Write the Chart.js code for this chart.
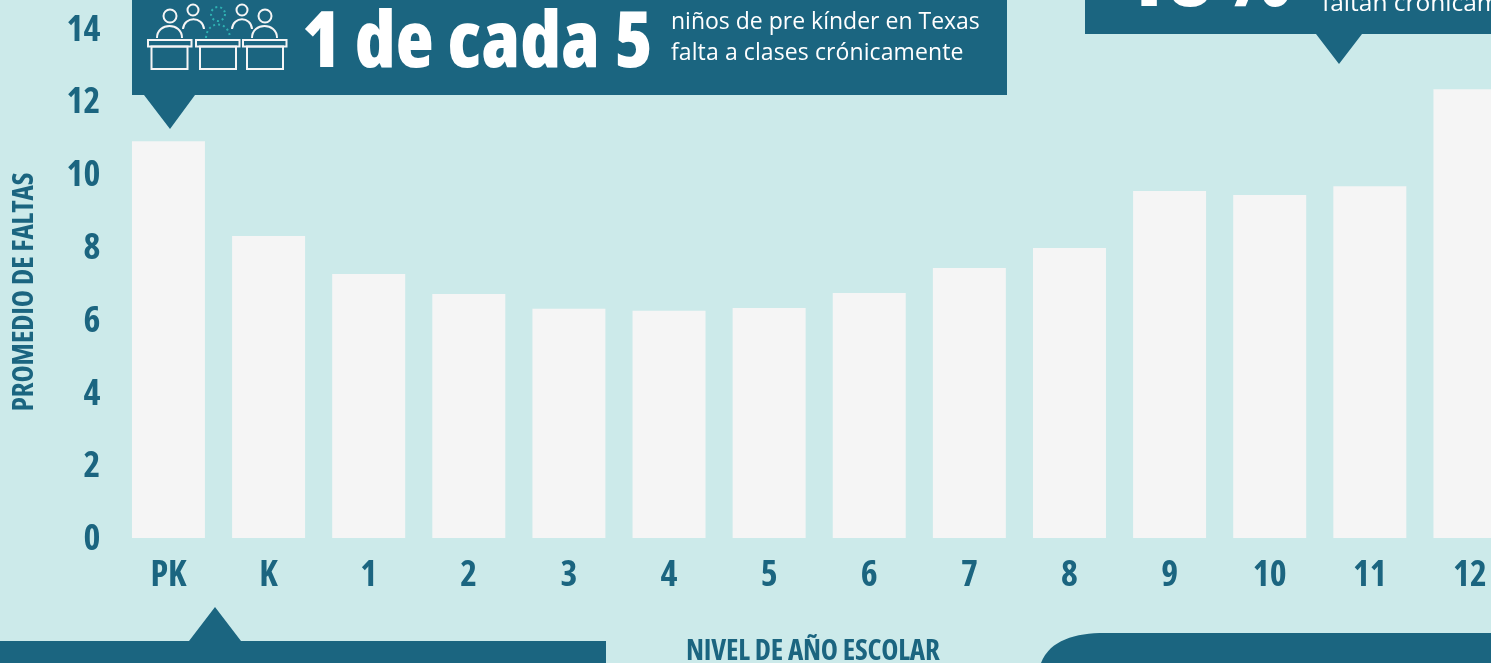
<!DOCTYPE html>
<html>
<head>
<meta charset="utf-8">
<style>
    html, body { margin: 0; padding: 0; width: 1491px; height: 663px; overflow: hidden; background: #cceaea; }
    #wrap { position: relative; width: 1491px; height: 663px; overflow: hidden; }
    #chartBox { position: absolute; left: 0; top: 0; width: 1520px; height: 663px; }
    #shapes { position: absolute; left: 0; top: 0; }
    .txt { position: absolute; white-space: nowrap; line-height: 1; }
    .big { font-family: "Open Sans", sans-serif; font-stretch: condensed; font-weight: 800; font-size: 78px; color: #fff; }
    .small { font: 23px "Open Sans", sans-serif; color: #fff; }
    .axisTitle { font-family: "Open Sans", sans-serif; font-stretch: condensed; font-weight: bold; font-size: 29px; color: #1b6580; }
</style>
</head>
<body>
<div id="wrap">
    <div id="chartBox"><canvas id="absenceChart"></canvas></div>

    <svg id="shapes" width="1491" height="663">
        <!-- callouts -->
        <path fill="#1b6580" d="M132 0H1007V95H195L170 129L144 95H132Z"/>
        <path fill="#1b6580" d="M1085 0H1491V34H1362L1339 64L1316 34H1085Z"/>
        <path fill="#1b6580" d="M0 641H189L215 607L241 641H606V663H0Z"/>
        <path fill="#1b6580" d="M1041 663C1050 640 1075 633 1105 633H1491V663Z"/>
        <!-- desks icon -->
        <g fill="none" stroke="#f5f5f5" stroke-width="2">
            <rect x="148" y="40" width="43.5" height="6.5"/>
            <rect x="151.5" y="46.5" width="36" height="22.5"/>
            <rect x="196" y="40" width="43.5" height="6.5"/>
            <rect x="200" y="46.5" width="36" height="22.5"/>
            <rect x="243" y="40" width="43.5" height="6.5"/>
            <rect x="247" y="46.5" width="36" height="22.5"/>
            <circle cx="170" cy="16" r="6.5"/>
            <path d="M157 38C157 22 182 22 182 38"/>
            <circle cx="193" cy="10" r="5.5"/>
            <path d="M183 29C184 16 203 16 204 29"/>
            <circle cx="242" cy="10" r="5.5"/>
            <path d="M232 29C233 16 251 16 252 29"/>
            <circle cx="265" cy="16" r="6.5"/>
            <path d="M252 38C252 22 277 22 277 38"/>
        </g>
        <g fill="none" stroke="#2fb2b2" stroke-width="2" stroke-dasharray="2 3">
            <circle cx="218" cy="14" r="7"/>
            <path d="M206 38C207 20 229 20 230 38"/>
        </g>
    </svg>

    <div class="txt big" style="left:302px; top:-2px; letter-spacing:0.2px;">1 de cada 5</div>
    <div class="txt small" style="left:671px; top:4px;">niños de pre kínder en Texas</div>
    <div class="txt small" style="left:671px; top:35px; letter-spacing:0.1px;">falta a clases crónicamente</div>
    <div class="txt big" style="left:1120px; top:-75px; font-size:92px; letter-spacing:2px;">18%</div>
    <div class="txt small" style="left:1322px; top:-15px; font-size:24.5px;">faltan crónicamente</div>

    <div class="txt axisTitle" style="left:686px; top:634px; letter-spacing:-0.2px;">NIVEL DE AÑO ESCOLAR</div>
    <div class="txt axisTitle" style="left:21px; top:292px; letter-spacing:-0.1px; transform: translate(-50%,-50%) rotate(-90deg);">PROMEDIO DE FALTAS</div>
</div>

<script src="https://cdn.jsdelivr.net/npm/chart.js@4"></script>
<script>
// Data
const gradeLabels = ['PK', 'K', '1', '2', '3', '4', '5', '6', '7', '8', '9', '10', '11', '12'];
const avgAbsences = [10.9, 8.3, 7.25, 6.7, 6.3, 6.24, 6.32, 6.73, 7.42, 7.97, 9.53, 9.42, 9.66, 12.33];
const yTicks = [0, 2, 4, 6, 8, 10, 12, 14];

const tickColor = '#1b6580';
// Chart.js rejects "condensed" as a style, the weight slot goes straight into the canvas font string
const tickFont = { family: '"Open Sans", sans-serif', size: 36, weight: 'condensed bold' };

const ctx = document.getElementById('absenceChart');
new Chart(ctx, {
    type: 'bar',
    data: {
        labels: gradeLabels,
        datasets: [{
            label: 'Promedio de faltas',
            data: avgAbsences,
            backgroundColor: '#f5f5f5',
            barPercentage: 1,
            categoryPercentage: 0.729
        }]
    },
    options: {
        responsive: true,
        maintainAspectRatio: false,
        animation: false,
        layout: { padding: 0 },
        plugins: {
            legend: { display: false },
            tooltip: { enabled: false }
        },
        scales: {
            x: {
                grid: { display: false },
                border: { display: false },
                afterFit: function(scale) {
                    scale.height = 125;
                    scale.paddingLeft = 0;
                    scale.paddingRight = 0;
                },
                ticks: {
                    color: tickColor,
                    font: tickFont,
                    padding: 8,
                    maxRotation: 0,
                    autoSkip: false
                }
            },
            y: {
                min: 0,
                max: 14.78,
                grid: { display: false },
                border: { display: false },
                afterFit: function(scale) {
                    scale.width = 118.4;
                    scale.paddingTop = 0;
                    scale.paddingBottom = 0;
                },
                afterBuildTicks: function(scale) {
                    scale.ticks = yTicks.map(v => ({ value: v }));
                },
                ticks: {
                    color: tickColor,
                    font: tickFont,
                    padding: 10,
                    labelOffset: 2
                }
            }
        }
    }
});
</script>
</body>
</html>
